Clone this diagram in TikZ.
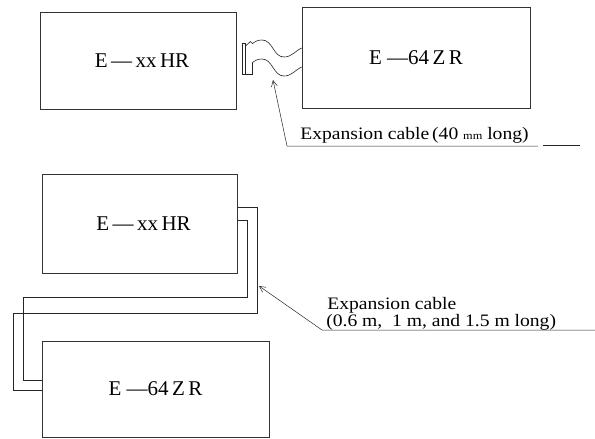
\documentclass[tikz,border=0pt]{standalone}
\usepackage{fontspec}
\setmainfont{Liberation Serif}
\newfontfamily\lblfont[FakeStretch=1.12]{Liberation Serif}
\usetikzlibrary{arrows.meta}
\begin{document}
\begin{tikzpicture}[x=1pt,y=-1pt,
  line width=0.6pt, draw=black!85,
  unit/.style={draw=black!80, rectangle, inner sep=0pt, font=\fontsize{21}{21}\selectfont},
  lbl/.style={anchor=base west, inner sep=0pt, font=\lblfont\fontsize{17.5}{17.5}\selectfont},
  cable/.style={draw=black!85, line width=0.6pt},
  lead/.style={draw=black!85, line width=0.5pt},
  tip/.style={-{Straight Barb[length=6pt,width=6pt]}}]
\useasboundingbox (0,0) rectangle (595,439);
% ---------- top figure ----------
\node[unit, minimum width=196pt, minimum height=97pt] (b1) at (138,60.5) {\hspace{8pt}E\,---\,xx\,HR};
\node[unit, minimum width=228pt, minimum height=101pt] (b2) at (416,57.5) {E ---64\,Z\,R};
% connector plug
\draw[cable] (242,43) rectangle (245.5,74);
\draw[cable] (245.5,74) -- (252,74) -- (252,63);
\draw[cable] (245.5,46) -- (250.5,41.5) -- (252.5,43.5);
% ribbon cable
\draw[cable] (252,44) to[out=40,in=180] (262,40) to[out=0,in=180] (284,57) to[out=0,in=205] (b2.west |- 0,48);
\draw[cable] (252,63) to[out=40,in=180] (262,59) to[out=0,in=180] (284,76) to[out=0,in=205] (b2.west |- 0,67);
% leader
\coordinate (a1) at (273,80);
\coordinate (k1) at (287,146);
\coordinate (e1) at (538,146);
\coordinate (s1) at (543,145);
\coordinate (s2) at (580,145);
\draw[lead, tip] (e1) -- (k1) -- (a1);
\draw[lead] (s1) -- (s2);
\node[lbl] (l1) at (300,139) {Expansion cable\,(40 {\fontsize{11}{11}\selectfont mm} long)};
% ---------- bottom figure ----------
\node[unit, minimum width=195pt, minimum height=99pt] (b3) at (139.5,223.5) {\hspace{8pt}E\,---\,xx\,HR};
\node[unit, minimum width=227pt, minimum height=96pt] (b4) at (155.5,389) {E ---64\,Z\,R};
\draw[cable] (b3.east |- 0,207) -| (257,313) -| (13,390) -- (b4.west |- 0,390);
\draw[cable] (b3.east |- 0,220) -| (247,297) -| (23,380) -- (b4.west |- 0,380);
\coordinate (a2) at (259,286);
\coordinate (k2) at (322,330);
\coordinate (e2) at (595,330);
\draw[lead, tip] (e2) -- (k2) -- (a2);
\node[lbl] (l2) at (327,309) {Expansion cable};
\node[lbl] (l3) at (326,326.5) {(0.6 m,\ \ 1 m, and 1.5 m long)};
\end{tikzpicture}
\end{document}
